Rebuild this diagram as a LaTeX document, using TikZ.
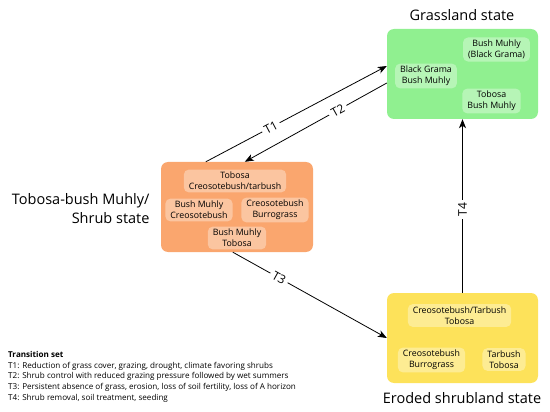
\documentclass[tikz,border=0pt]{standalone}
\usepackage{fontspec}
\setmainfont{Open Sans}
\usetikzlibrary{arrows.meta}
\definecolor{grassc}{RGB}{144,240,144}
\definecolor{shrubc}{RGB}{250,166,110}
\definecolor{erodc}{RGB}{253,226,90}
\tikzset{
  statebox/.style={rounded corners=7pt, minimum width=151pt, minimum height=90pt, inner sep=0pt},
  subbox/.style={rounded corners=5pt, fill=white, fill opacity=0.35, text opacity=1, align=center,
     font=\fontsize{8.8}{11}\selectfont, inner xsep=5pt, inner ysep=2.5pt},
  title/.style={font=\fontsize{14.5}{19}\selectfont},
  arr/.style={-{Stealth[length=9pt,width=7pt,inset=2.5pt]}, line width=0.8pt},
  tlbl/.style={fill=white, inner sep=3pt, font=\fontsize{12}{14}\selectfont, sloped}
}
\begin{document}
\begin{tikzpicture}[x=1pt,y=-1pt]
\useasboundingbox (0,0) rectangle (550,412);
% states
\node[statebox, fill=grassc] (grass) at (462.5,74) {};
\node[statebox, fill=shrubc, minimum width=152pt] (shrub) at (237,207) {};
\node[statebox, fill=erodc] (erod) at (462.5,338) {};
% titles
\node[title] (tgrass) at (462,15) {Grassland state};
\node[title] (terod) at (462,398) {Eroded shrubland state};
\node[title, align=right, anchor=east] (tshrub) at (153,208.5) {Tobosa-bush Muhly/\\Shrub state};
% grassland sub boxes
\node[subbox] (g1) at (496.5,49.5) {Bush Muhly\\(Black Grama)};
\node[subbox] (g2) at (426,76) {Black Grama\\Bush Muhly};
\node[subbox] (g3) at (491.5,101) {Tobosa\\Bush Muhly};
% shrub sub boxes
\node[subbox] (s1) at (235,181) {Tobosa\\Creosotebush/tarbush};
\node[subbox] (s2) at (199,210) {Bush Muhly\\Creosotebush};
\node[subbox] (s3) at (275,210) {Creosotebush\\Burrograss};
\node[subbox] (s4) at (237,238) {Bush Muhly\\Tobosa};
% eroded sub boxes
\node[subbox] (e1) at (459.5,315.5) {Creosotebush/Tarbush\\Tobosa};
\node[subbox] (e2) at (431.5,360) {Creosotebush\\Burrograss};
\node[subbox] (e3) at (504,359.5) {Tarbush\\Tobosa};
% transitions
\draw[arr] ([xshift=45pt]shrub.north west) -- node[tlbl, pos=0.36] (l1) {T1} ([yshift=8pt]grass.west);
\draw[arr] ([yshift=-9pt]grass.west) -- node[tlbl, pos=0.345] (l2) {T2} ([xshift=84pt]shrub.north west);
\draw[arr] ([xshift=72pt]shrub.south west) -- node[tlbl, pos=0.3] (l3) {T3} (erod.west);
\draw[arr] (erod.north) -- node[tlbl, pos=0.48] (l4) {T4} (grass.south);
% legend
\node[anchor=base west, align=left, inner sep=0pt, font=\fontsize{8.1}{10.8}\selectfont] (legend) at (8,400.5)
{\textbf{Transition set}\\
T1: Reduction of grass cover, grazing, drought, climate favoring shrubs\\
T2: Shrub control with reduced grazing pressure followed by wet summers\\
T3: Persistent absence of grass, erosion, loss of soil fertility, loss of A horizon\\
T4: Shrub removal, soil treatment, seeding};
\end{tikzpicture}
\end{document}
